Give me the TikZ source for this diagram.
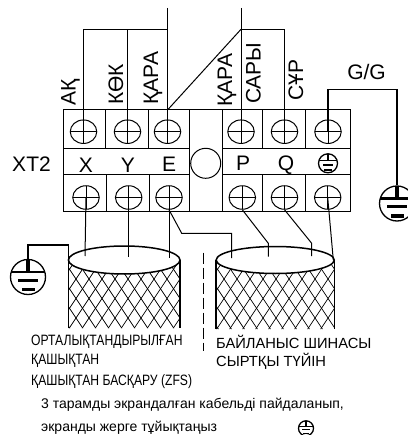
\documentclass[tikz,border=0pt]{standalone}
\usepackage{fontspec}
\setmainfont{Liberation Sans}
\newfontfamily\narrowfont[FakeStretch=0.81]{Liberation Sans}
\usepackage{tikz}
\usetikzlibrary{shapes.geometric}
\tikzset{
  screw/.style = {
    ellipse, draw, line width = 1pt, inner sep = 0pt, minimum width = 26.5pt, minimum height = 23.5pt,
    path picture = {
      \draw[line width = .9pt] (path picture bounding box.west) -- (path picture bounding box.east);
      \draw[line width = .9pt] (path picture bounding box.north) -- (path picture bounding box.south);
    }
  },
  earthmark/.style = {
    circle, draw, line width = 1.3pt, inner sep = 0pt, minimum size = #1 pt,
    path picture = {
      \begin{scope}[shift = {(path picture bounding box.center)}, x = #1/35*1pt, y = -#1/35*1pt]
        \fill (-18,-6.2) rectangle (18,-3.8);
        \fill (-2,-18) rectangle (2,-5);
        \fill (-10,2) rectangle (10,4.6);
        \fill (-6.5,10.5) rectangle (6.5,14);
      \end{scope}
    }
  },
  wire/.style = {line width = 1pt},
  block/.style = {line width = 1pt},
  tag/.style = {font = \fontsize{21}{21}\selectfont, inner sep = 0pt},
  wiretag/.style = {font = \fontsize{21}{21}\selectfont, inner sep = 0pt, rotate = 90, anchor = west},
  caption/.style = {font = \fontsize{14.7}{14.7}\selectfont, inner sep = 0pt, anchor = west},
  narrowcap/.style = {caption, font = \narrowfont\fontsize{15}{15}\selectfont},
  notecap/.style = {caption, font = \fontsize{14}{14}\selectfont},
}
\begin{document}
\begin{tikzpicture}[x = 1pt, y = -1pt]
  \useasboundingbox (0,0) rectangle (407,435);

  % terminal block
  \draw[block] (63.5,110) rectangle (350,211.5);
  \draw[block] (63.5,148.5) -- (189,148.5);
  \draw[block] (63.5,175) -- (189,175);
  \draw[block] (222.5,148.5) -- (350,148.5);
  \draw[block] (222.5,175) -- (350,175);
  \draw[block] (105.7,110) -- (105.7,148.5);
  \draw[block] (148.3,110) -- (148.3,148.5);
  \draw[block] (106.7,175) -- (106.7,211.5);
  \draw[block] (149,175) -- (149,211.5);
  \draw[block] (189,110) -- (189,211.5);
  \draw[block] (222.5,110) -- (222.5,211.5);
  \draw[block] (262.3,110) -- (262.3,148.5);
  \draw[block] (305.7,110) -- (305.7,148.5);
  \draw[block] (262.3,175) -- (262.3,211.5);
  \draw[block] (305.7,175) -- (305.7,211.5);

  \node[circle, draw, block, minimum size = 30pt, inner sep = 0pt] (hole) at (205.7,163.3) {};

  \node[screw] (topX) at (83.5,131.7) {};
  \node[screw] (topY) at (127.5,131.7) {};
  \node[screw] (topE) at (167.5,131.7) {};
  \node[screw] (topP) at (241,131.7) {};
  \node[screw] (topQ) at (284.5,131.7) {};
  \node[screw] (topG) at (328,131.7) {};
  \node[screw] (lowX) at (86,197.5) {};
  \node[screw] (lowY) at (128.7,197.5) {};
  \node[screw] (lowE) at (169,197.5) {};
  \node[screw] (lowP) at (242.3,197.5) {};
  \node[screw] (lowQ) at (284.5,197.5) {};
  \node[screw] (lowG) at (327.7,197.5) {};

  \node[tag] (xttag) at (31.5,164.5) {XT2};
  \node[tag] (xtag) at (86,165) {X};
  \node[tag] (ytag) at (128,165) {Y};
  \node[tag] (etag) at (169,164.5) {E};
  \node[tag] (ptag) at (243,163) {P};
  \node[tag] (qtag) at (286,165.5) {Q};
  \node[earthmark = 19] (blockearth) at (328,163.3) {};

  % wires above the block
  \coordinate (busL) at (167.5,8);
  \coordinate (busR) at (241,8);
  \coordinate (cornerX) at (83.5,29.3);
  \coordinate (cornerY) at (127.5,29.3);
  \coordinate (cornerL) at (167.5,29.3);
  \coordinate (cornerR) at (241,29.3);
  \coordinate (cornerQ) at (284.5,29.3);
  \coordinate (split) at (167.5,110);
  \begin{scope}[wire]
    \draw (busL) -- (topE.center);
    \draw (cornerX) -- (cornerL);
    \draw (cornerX) -- (topX.center);
    \draw (cornerY) -- (topY.center);
    \draw (split) -- (cornerR);
    \draw (busR) -- (topP.center);
    \draw (cornerR) -- (cornerQ) -- (topQ.center);
  \end{scope}

  \node[wiretag] (ak) at (70.5,106) {АҚ};
  \node[wiretag] (kok) at (116,105) {КӨК};
  \node[wiretag] (kara1) at (153,105) {ҚАРА};
  \node[wiretag] (kara2) at (227,107) {ҚАРА};
  \node[wiretag] (sary) at (253.5,104) {САРЫ};
  \node[wiretag] (sur) at (296,101) {СҰР};
  \node[tag] (gg) at (366.5,72) {G/G};

  % earth on the right
  \node[earthmark = 35] (earthR) at (397,203.5) {};
  \coordinate (ggA) at (328,89.5);
  \coordinate (ggB) at (397,89.5);
  \draw[line width = 1.2pt] (topG.center) -- (ggA) -- (ggB) -- (earthR.north);

  % cable shields
  \begin{scope}
    \clip (68.3,260) arc[start angle = 180, end angle = 360, x radius = 55.8, y radius = -14] -- (180,328) -- (68.3,328) -- cycle;
    \foreach \i in {-4,...,14} {
      \draw[line width = .7pt] (50+\i*13,240) -- ++(64,96);
      \draw[line width = .7pt] (50+\i*13,240) -- ++(-64,96);
    }
  \end{scope}
  \begin{scope}
    \clip (216,260) arc[start angle = 180, end angle = 360, x radius = 59, y radius = -13.5] -- (334.3,329) -- (216,329) -- cycle;
    \foreach \i in {-4,...,14} {
      \draw[line width = .7pt] (198+\i*13,240) -- ++(64,96);
      \draw[line width = .7pt] (198+\i*13,240) -- ++(-64,96);
    }
  \end{scope}
  \draw[line width = 1.5pt] (124.2,260) ellipse[x radius = 55.8, y radius = 14];
  \draw[line width = 1.5pt] (275.2,260) ellipse[x radius = 59, y radius = 13.5];
  \draw[line width = 1.5pt] (68.3,260) -- (68.3,328);
  \draw[line width = 1.5pt] (180,260) -- (180,328);
  \draw[line width = 1.5pt] (216,260) -- (216,329);
  \draw[line width = 1.5pt] (334.3,260) -- (334.3,329);

  % wires below the block
  \coordinate (endX) at (85,256);
  \coordinate (endY) at (128.7,257.3);
  \coordinate (endE) at (169,258);
  \coordinate (endP) at (231.7,258);
  \coordinate (kneeP) at (268.3,243.3);
  \coordinate (endQ) at (268.3,256.7);
  \coordinate (kneeQ) at (311.7,243.3);
  \coordinate (endR) at (311.7,256);
  \coordinate (endS) at (333.3,260);
  \begin{scope}[wire]
    \draw (lowX.center) -- (endX);
    \draw (lowY.center) -- (endY);
    \draw (lowE.center) -- (endE);
    \draw (lowE.south) -- (181.7,233.3) -- (231.7,233.3) -- (endP);
    \draw (lowP.south) -- (kneeP) -- (endQ);
    \draw (lowQ.south) -- (kneeQ) -- (endR);
    \draw (lowG.center) -- (endS);
  \end{scope}

  % earth on the left
  \node[earthmark = 35] (earthL) at (28,277) {};
  \coordinate (shieldA) at (28,245);
  \coordinate (shieldB) at (68.3,245);
  \coordinate (shieldC) at (68.3,260);
  \draw[line width = 1.6pt] (earthL.north) -- (shieldA) -- (shieldB) -- (shieldC);

  \draw[line width = .9pt, dash pattern = on 11pt off 4pt] (203.3,252.7) -- (203.3,350.7);

  \node[narrowcap] (zfs1) at (31,342) {ОРТАЛЫҚТАНДЫРЫЛҒАН};
  \node[narrowcap] (zfs2) at (31,361) {ҚАШЫҚТАН};
  \node[narrowcap] (zfs3) at (31,381.7) {ҚАШЫҚТАН БАСҚАРУ (ZFS)};
  \node[caption] (bus1) at (216,342) {БАЙЛАНЫС ШИНАСЫ};
  \node[caption] (bus2) at (216,361) {СЫРТҚЫ ТҮЙІН};
  \node[notecap] (note1) at (41,405) {3 тарамды экрандалған кабельді пайдаланып,};
  \node[notecap] (note2) at (41,428) {экранды жерге тұйықтаңыз};
  \node[earthmark = 15] (noteearth) at (306,428.3) {};
\end{tikzpicture}
\end{document}
